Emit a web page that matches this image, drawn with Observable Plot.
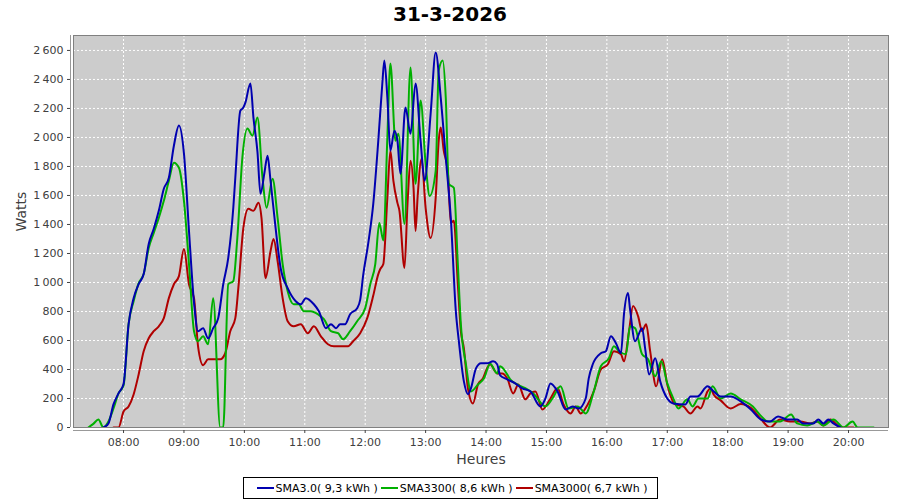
<!DOCTYPE html>
<html>
<head>
<meta charset="utf-8">
<script src="https://cdn.jsdelivr.net/npm/d3@7"></script>
<script src="https://cdn.jsdelivr.net/npm/@observablehq/plot@0.6"></script>
<style>
  html, body { margin: 0; padding: 0; background: #fff; }
  body { width: 900px; height: 500px; overflow: hidden; position: relative; font-family: "DejaVu Sans", sans-serif; }
  #title { height: 30px; line-height: 28px; text-align: center; font-weight: bold; font-size: 20px; color: #000; }
  #chart { height: 440px; }
  #legend { position: absolute; left: 243px; top: 477px; width: 415px; height: 22px; box-sizing: border-box;
            border: 1px solid #000; display: flex; align-items: center; justify-content: center; font-size: 11px; color: #000; white-space: pre; }
  #legend .sw { display: inline-block; width: 17px; height: 2px; margin: 0 2px 0 3px; }
  #legend .it { display: flex; align-items: center; }
</style>
</head>
<body>
<div id="title"></div>
<div id="chart"></div>
<div id="legend"></div>
<script>
// ---- chart text ----
const chartTitle = "31-3-2026";
const xLabel = "Heures";
const yLabel = "Watts";
const seriesNames = ["SMA3.0( 9,3 kWh )", "SMA3300( 8,6 kWh )", "SMA3000( 6,7 kWh )"];
const seriesColors = ["#0000b0", "#00b000", "#b00000"];

// ---- axis ticks ----
const hourMinutes = [480, 540, 600, 660, 720, 780, 840, 900, 960, 1020, 1080, 1140, 1200];
const hourLabels = ["08:00", "09:00", "10:00", "11:00", "12:00", "13:00", "14:00", "15:00", "16:00", "17:00", "18:00", "19:00", "20:00"];
const yTicks = [0, 200, 400, 600, 800, 1000, 1200, 1400, 1600, 1800, 2000, 2200, 2400, 2600];
const yTickLabels = ["0", "200", "400", "600", "800", "1\u202f000", "1\u202f200", "1\u202f400", "1\u202f600", "1\u202f800", "2\u202f000", "2\u202f200", "2\u202f400", "2\u202f600"];

// ---- series: [minutes after midnight, watts] ----
const sma30 = [[460,0],[465,28],[470,159],[475,235],[480,300],[485,712],[490,892],[495,988],[500,1058],[505,1265],[510,1370],[515,1494],[520,1646],[525,1722],[530,1943],[535,2082],[540,1888],[545,1355],[550,860],[554,664],[559,685],[564,615],[569,685],[574,754],[579,988],[584,1170],[589,1515],[591,1722],[596,2185],[599,2206],[601,2240],[606,2372],[609,2137],[613,1900],[616,1611],[620,1760],[623,1874],[626,1700],[631,1376],[636,1100],[643,961],[651,871],[656,850],[661,892],[669,850],[674,802],[681,685],[686,712],[691,685],[695,712],[700,712],[705,781],[712,823],[715,880],[718,1050],[723,1270],[728,1542],[733,1978],[737,2372],[739,2531],[742,2275],[745,1909],[749,2047],[752,1978],[755,1750],[760,2206],[765,2026],[770,2372],[775,1978],[779,1701],[785,2165],[790,2586],[795,2275],[800,1860],[805,1445],[810,802],[813,595],[818,318],[822,230],[825,270],[830,408],[835,443],[841,443],[847,456],[851,436],[854,360],[861,332],[869,304],[876,270],[884,249],[894,145],[899,200],[904,304],[911,249],[919,124],[926,145],[932,131],[939,200],[942,339],[946,436],[954,512],[959,526],[964,629],[969,581],[974,512],[977,781],[981,927],[983,816],[988,595],[995,685],[998,546],[1002,366],[1008,477],[1013,318],[1020,200],[1026,166],[1038,159],[1043,214],[1050,214],[1060,284],[1066,249],[1073,214],[1083,214],[1093,180],[1103,124],[1113,55],[1122,41],[1130,76],[1139,55],[1149,55],[1155,28],[1165,28],[1170,55],[1175,28],[1180,55],[1185,28],[1192,0]];

const sma3300 = [[445,0],[450,25],[455,55],[460,0],[465,41],[470,131],[475,235],[480,290],[485,712],[490,871],[495,996],[500,1058],[505,1238],[510,1342],[515,1445],[520,1563],[525,1701],[530,1826],[535,1791],[540,1563],[545,1127],[550,664],[554,595],[559,629],[564,574],[569,892],[576,0],[579,0],[584,988],[589,1010],[593,1307],[598,1860],[603,2061],[608,2012],[613,2137],[618,1722],[622,1515],[628,1715],[633,1445],[638,1127],[643,940],[649,850],[654,850],[659,802],[666,802],[673,781],[679,747],[686,664],[693,650],[698,609],[705,664],[712,733],[720,823],[725,988],[730,1127],[734,1410],[738,1290],[742,2000],[745,2510],[750,1978],[753,2026],[759,1404],[765,2483],[770,1680],[775,2254],[780,1819],[784,1597],[790,1770],[793,2462],[797,2531],[800,2275],[803,1680],[808,1653],[812,1127],[815,712],[820,436],[825,249],[832,297],[838,339],[844,440],[851,373],[854,422],[861,366],[864,332],[871,297],[881,263],[887,235],[899,145],[906,200],[914,284],[922,131],[931,145],[939,97],[947,249],[954,422],[962,477],[967,560],[972,526],[979,505],[983,698],[988,685],[995,505],[1001,470],[1008,353],[1014,456],[1020,304],[1026,200],[1031,131],[1040,194],[1045,145],[1051,200],[1060,200],[1065,284],[1073,200],[1083,235],[1093,194],[1105,145],[1113,80],[1120,41],[1132,41],[1143,90],[1149,28],[1159,14],[1169,41],[1175,14],[1185,55],[1195,0],[1204,41],[1209,0],[1225,0]];

const sma3000 = [[470,0],[475,0],[480,110],[485,145],[490,228],[495,366],[500,526],[505,615],[510,664],[515,698],[520,754],[525,892],[530,988],[535,1044],[540,1231],[545,988],[550,892],[554,560],[559,430],[564,470],[569,470],[576,470],[581,512],[586,664],[591,754],[594,961],[599,1376],[604,1508],[609,1494],[614,1549],[617,1445],[621,1030],[626,1217],[629,1300],[633,1148],[638,892],[643,733],[649,698],[656,712],[663,650],[669,698],[676,629],[683,574],[689,560],[695,560],[703,560],[708,595],[715,650],[722,754],[728,910],[733,1058],[735,1093],[738,1127],[742,1584],[745,1909],[748,1701],[752,1549],[754,1494],[759,1100],[762,1542],[765,1840],[768,1653],[770,1355],[772,1584],[776,1853],[780,1515],[785,1307],[790,1584],[793,1978],[795,2068],[798,1909],[802,1770],[805,1411],[808,1425],[812,988],[815,664],[818,546],[822,270],[827,166],[832,297],[837,339],[841,408],[844,436],[851,373],[856,373],[861,339],[867,235],[872,297],[879,194],[884,235],[889,249],[896,124],[904,200],[911,270],[917,159],[924,97],[929,145],[934,97],[941,159],[947,250],[954,400],[961,436],[967,526],[974,505],[977,456],[982,664],[986,837],[991,768],[995,664],[999,712],[1003,526],[1009,284],[1015,470],[1020,297],[1028,159],[1036,145],[1043,97],[1050,145],[1053,131],[1060,249],[1063,270],[1066,228],[1073,187],[1083,131],[1093,162],[1103,135],[1113,58],[1122,0],[1132,55],[1142,41],[1152,41],[1162,28],[1169,41],[1175,14],[1182,55],[1192,0],[1205,0]];

const xDomain = [430.3, 1239.7];
const yDomain = [0, 2703];

const seriesData = [sma30, sma3300, sma3000];
const hourLabelOf = new Map(hourMinutes.map((m, i) => [m, hourLabels[i]]));
const yLabelOf = new Map(yTicks.map((v, i) => [v, yTickLabels[i]]));

document.getElementById("title").textContent = chartTitle;

const lineMarks = [2, 1, 0].map(i =>
  Plot.line(seriesData[i], {x: d => d[0], y: d => d[1], stroke: seriesColors[i], strokeWidth: 2, curve: "monotone-x", clip: true})
);

const chart = Plot.plot({
  width: 900,
  height: 440,
  marginTop: 5,
  marginBottom: 43,
  marginLeft: 73,
  marginRight: 12,
  style: {fontFamily: "'DejaVu Sans', sans-serif", fontSize: "11px", color: "#404040", background: "#fff"},
  x: {domain: xDomain, label: null},
  y: {domain: yDomain, label: null},
  marks: [
    Plot.frame({fill: "#cccccc"}),
    Plot.gridY(yTicks, {stroke: "#ffffff", strokeOpacity: 1, strokeDasharray: "2,2"}),
    Plot.gridX(hourMinutes, {stroke: "#ffffff", strokeOpacity: 1, strokeDasharray: "2,2"}),
    ...lineMarks,
    Plot.frame({stroke: "#808080"}),
    Plot.ruleX([xDomain[0]], {dx: -3, stroke: "#999"}),
    Plot.ruleY([yDomain[0]], {dy: 3, stroke: "#999"}),
    Plot.axisY(yTicks, {tickSize: 3, dx: -3, tickPadding: 4, tickFormat: v => yLabelOf.get(v), label: null}),
    Plot.axisX(hourMinutes, {tickSize: 3, dy: 3, tickPadding: 5, tickFormat: v => hourLabelOf.get(v), label: null}),
    Plot.text([yLabel], {frameAnchor: "left", dx: -52, rotate: -90, fontSize: 14, fill: "#404040"}),
    Plot.text([xLabel], {frameAnchor: "bottom", dy: 36, fontSize: 14, fill: "#404040"})
  ]
});
document.getElementById("chart").appendChild(chart);

const legend = document.getElementById("legend");
seriesNames.forEach((name, i) => {
  const it = document.createElement("span");
  it.className = "it";
  const sw = document.createElement("span");
  sw.className = "sw";
  sw.style.background = seriesColors[i];
  const tx = document.createElement("span");
  tx.textContent = name;
  it.appendChild(sw);
  it.appendChild(tx);
  legend.appendChild(it);
});
</script>
</body>
</html>
